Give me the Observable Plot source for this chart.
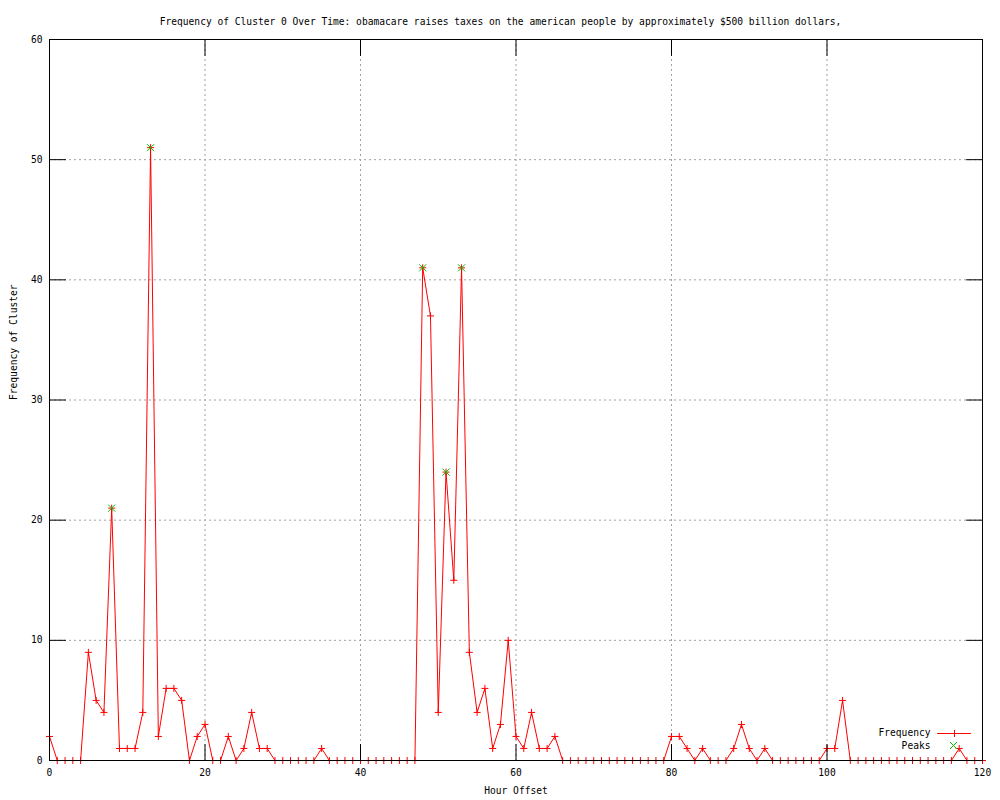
<!DOCTYPE html>
<html><head><meta charset="utf-8">
<script src="https://cdn.jsdelivr.net/npm/d3@7"></script>
<script src="https://cdn.jsdelivr.net/npm/@observablehq/plot@0.6"></script>
<style>body{margin:0;background:#fff} svg{display:block}</style>
</head><body><div id="chart"></div>
<script>
const title = "Frequency of Cluster 0 Over Time: obamacare raises taxes on the american people by approximately $500 billion dollars,";
const xLabel = "Hour Offset";
const yLabel = "Frequency of Cluster";
// frequency per hour offset (index = hour 0..120)
const frequency = [
  2,0,0,0,0,9,5,4,21,1, 1,1,4,51,2,6,6,5,0,2,
  3,0,0,2,0,1,4,1,1,0, 0,0,0,0,0,1,0,0,0,0,
  0,0,0,0,0,0,0,0,41,37, 4,24,15,41,9,4,6,1,3,10,
  2,1,4,1,1,2,0,0,0,0, 0,0,0,0,0,0,0,0,0,0,
  2,2,1,0,1,0,0,0,1,3, 1,0,1,0,0,0,0,0,0,0,
  1,1,5,0,0,0,0,0,0,0, 0,0,0,0,0,0,0,1,0,0,
  0
];
const peakHours = [8, 13, 48, 51, 53];
const peakValues = [21, 51, 41, 24, 41];
const xTicks = [0, 20, 40, 60, 80, 100, 120];
const yTicks = [0, 10, 20, 30, 40, 50, 60];
const xGrid = [20, 40, 60, 80, 100];
const yGrid = [10, 20, 30, 40, 50];
const legendLabels = ["Frequency", "Peaks"];

const freqData = frequency.map((v, i) => ({hour: i, value: v}));
const peakData = peakHours.map((h, i) => ({hour: h, value: peakValues[i]}));

const font = "'DejaVu Sans Mono', monospace";
const tickShape = {draw(ctx, l) { ctx.moveTo(0, 0); ctx.lineTo(0, -l); }};
const gridStyle = {stroke: "#a0a0a0", strokeOpacity: 1, strokeWidth: 1, strokeDasharray: "2,3"};
const tickStyle = {length: 16, anchor: "start", shape: tickShape, stroke: "black", strokeWidth: 1};
const green = "#00c000";
const plusR = 2.4;
const timesR = 3.3;

const chart = Plot.plot({
  width: 1000, height: 800,
  marginLeft: 49, marginRight: 18, marginTop: 39, marginBottom: 40,
  style: {fontFamily: font, fontSize: "9.6px", background: "#fff", color: "#000"},
  x: {domain: [0, 120]},
  y: {domain: [0, 60]},
  marks: [
    Plot.gridX(xGrid, gridStyle),
    Plot.gridY(yGrid, gridStyle),
    Plot.line(freqData, {x: "hour", y: "value", stroke: "red", strokeWidth: 1}),
    Plot.dot(freqData, {x: "hour", y: "value", symbol: "plus", r: plusR, stroke: "red", strokeWidth: 1}),
    Plot.dot(peakData, {x: "hour", y: "value", symbol: "times", r: timesR, stroke: green, strokeWidth: 1}),
    Plot.frame({stroke: "black", strokeWidth: 1}),
    Plot.vector(yTicks, {y: d => d, frameAnchor: "left", rotate: 90, ...tickStyle}),
    Plot.vector(yTicks, {y: d => d, frameAnchor: "right", rotate: -90, ...tickStyle}),
    Plot.vector(xTicks, {x: d => d, frameAnchor: "bottom", rotate: 0, ...tickStyle}),
    Plot.vector(xTicks, {x: d => d, frameAnchor: "top", rotate: 180, ...tickStyle}),
    Plot.axisX(xTicks, {anchor: "bottom", tickSize: 0, tickPadding: 9, label: null, tickFormat: d => String(d)}),
    Plot.axisY(yTicks, {anchor: "left", tickSize: 0, tickPadding: 7, label: null, tickFormat: d => String(d)}),
    Plot.text([title], {frameAnchor: "top", dx: -15.5, dy: -21, text: d => d, fill: "black"}),
    Plot.text([xLabel], {frameAnchor: "bottom", dy: 33, text: d => d, fill: "black"}),
    Plot.text([yLabel], {frameAnchor: "left", dx: -36, rotate: -90, text: d => d, fill: "black"}),
    // legend
    Plot.text([legendLabels[0]], {frameAnchor: "bottom-right", dx: -52, dy: -25, textAnchor: "end", text: d => d, fill: "black"}),
    Plot.text([legendLabels[1]], {frameAnchor: "bottom-right", dx: -52, dy: -12, textAnchor: "end", text: d => d, fill: "black"}),
    Plot.vector([0], {frameAnchor: "bottom-right", dx: -45, dy: -27, rotate: 90, length: 33, anchor: "start", shape: tickShape, stroke: "red", strokeWidth: 1}),
    Plot.dot([0], {frameAnchor: "bottom-right", dx: -28, dy: -27, symbol: "plus", r: plusR, stroke: "red", strokeWidth: 1}),
    Plot.dot([0], {frameAnchor: "bottom-right", dx: -29, dy: -15, symbol: "times", r: timesR, stroke: green, strokeWidth: 1})
  ]
});
document.getElementById("chart").appendChild(chart);
</script>
</body></html>
